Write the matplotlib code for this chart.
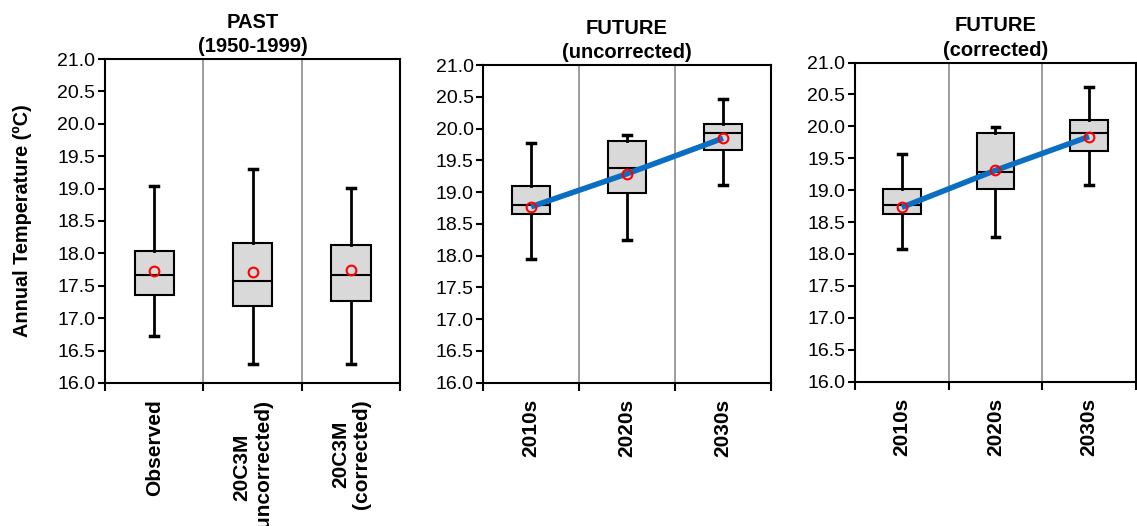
import matplotlib
matplotlib.use('Agg')
import matplotlib.pyplot as plt
import numpy as np

plt.rcParams['font.family'] = ['Liberation Sans', 'DejaVu Sans']

# --- data (deg C) ---
past_labels = ['Observed', '20C3M\n(uncorrected)', '20C3M\n(corrected)']
past_low = [16.73, 16.29, 16.29]
past_q1 = [17.36, 17.19, 17.26]
past_med = [17.67, 17.58, 17.67]
past_q3 = [18.04, 18.16, 18.13]
past_high = [19.04, 19.30, 19.01]
past_mean = [17.73, 17.71, 17.74]

fut_labels = ['2010s', '2020s', '2030s']
unc_low = [17.95, 18.24, 19.11]
unc_q1 = [18.65, 18.99, 19.66]
unc_med = [18.80, 19.38, 19.93]
unc_q3 = [19.09, 19.81, 20.08]
unc_high = [19.77, 19.90, 20.46]
unc_mean = [18.77, 19.29, 19.85]

cor_low = [18.07, 18.27, 19.08]
cor_q1 = [18.63, 19.02, 19.61]
cor_med = [18.77, 19.29, 19.90]
cor_q3 = [19.02, 19.90, 20.10]
cor_high = [19.57, 19.99, 20.62]
cor_mean = [18.73, 19.31, 19.84]

fig = plt.figure(figsize=(11.37, 5.26), dpi=100)
ax1 = fig.add_axes([0.0925, 0.2719, 0.2594, 0.6159])
ax2 = fig.add_axes([0.4250, 0.2728, 0.2531, 0.6032])
ax3 = fig.add_axes([0.7520, 0.2747, 0.2470, 0.6064])


def draw_panel(ax, labels, low, q1, med, q3, high, mean, title, trend):
    n = len(labels)
    stats = []
    for i in range(n):
        stats.append(dict(whislo=low[i], q1=q1[i], med=med[i], q3=q3[i],
                          whishi=high[i], fliers=[]))
    pos = np.arange(1, n + 1)
    ax.bxp(stats, positions=pos, widths=0.4, patch_artist=True,
           showfliers=False,
           boxprops=dict(facecolor='#d9d9d9', edgecolor='black', linewidth=1.5),
           medianprops=dict(color='black', linewidth=1.5),
           whiskerprops=dict(color='black', linewidth=2),
           capprops=dict(color='black', linewidth=2.5),
           capwidths=0.08, zorder=2)
    if trend:
        ax.plot(pos, mean, color='#0a6fc2', linewidth=4, zorder=3,
                solid_capstyle='butt')
    ax.plot(pos, mean, 'o', mfc='none', mec='red', mew=1.5, ms=7, zorder=4)
    # separators between categories
    for b in np.arange(1.5, n, 1.0):
        ax.axvline(b, color='#8c8c8c', linewidth=1.2, zorder=1)
    ax.set_xlim(0.5, n + 0.5)
    ax.set_ylim(16, 21)
    ax.set_yticks(np.arange(16, 21.01, 0.5))
    ax.set_yticklabels(['%.1f' % v for v in np.arange(16, 21.01, 0.5)],
                       fontsize=14)
    ax.set_xticks(pos)
    ax.set_xticklabels(labels, rotation=90, fontsize=15, fontweight='bold',
                       va='top', ha='center', linespacing=1.15)
    ax.tick_params(axis='x', which='major', length=0, pad=12)
    ax.set_xticks(np.arange(0.5, n + 0.51, 1.0), minor=True)
    ax.tick_params(axis='x', which='minor', length=6, width=1.5, direction='out')
    ax.tick_params(axis='y', length=5, width=1.5, direction='out', pad=2)
    for s in ax.spines.values():
        s.set_linewidth(1.5)
    ax.set_title(title, fontsize=14.5, fontweight='bold', linespacing=1.35,
                 pad=5)


draw_panel(ax1, past_labels, past_low, past_q1, past_med, past_q3, past_high,
           past_mean, 'PAST\n(1950-1999)', False)
draw_panel(ax2, fut_labels, unc_low, unc_q1, unc_med, unc_q3, unc_high,
           unc_mean, 'FUTURE\n(uncorrected)', True)
draw_panel(ax3, fut_labels, cor_low, cor_q1, cor_med, cor_q3, cor_high,
           cor_mean, 'FUTURE\n(corrected)', True)

ax1.set_ylabel('Annual Temperature (ºC)', fontsize=14.3, fontweight='bold',
               labelpad=18)

fig.savefig('out.png', dpi=100)
